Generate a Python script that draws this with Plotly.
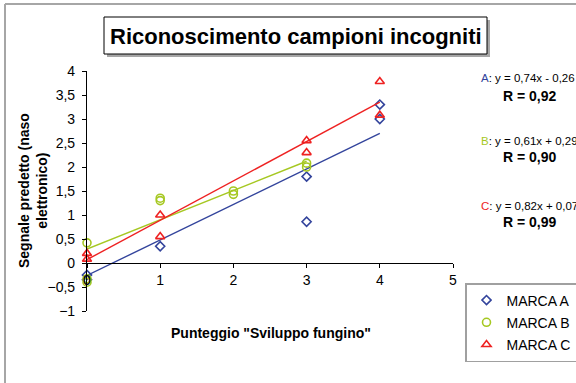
import plotly.graph_objects as go

# Scores ("Sviluppo fungino") and predicted electronic-nose signal per brand
a_x = [0, 0, 1, 3, 3, 4, 4]
a_y = [-0.25, -0.35, 0.35, 1.80, 0.86, 3.30, 3.00]

b_x = [0, 0, 0, 1, 1, 2, 2, 3, 3]
b_y = [0.42, -0.33, -0.40, 1.35, 1.30, 1.50, 1.43, 2.08, 2.00]

c_x = [0, 0, 1, 1, 3, 3, 4, 4]
c_y = [0.20, 0.08, 1.00, 0.55, 2.55, 2.30, 3.78, 3.08]

# Linear fits (slope, intercept, R) for each brand
fit_a = (0.74, -0.26, 0.92)
fit_b = (0.61, 0.29, 0.90)
fit_c = (0.82, 0.07, 0.99)

series_names = ["MARCA A", "MARCA B", "MARCA C"]
x_ticks = [0, 1, 2, 3, 4, 5]

BLUE = "#33449c"
GREEN = "#a6c822"
RED = "#ee2222"
FONT = "Arial, Liberation Sans, sans-serif"

# plot-area geometry in pixels (used to place paper-space decorations)
W_PX, H_PX = 576, 383
L, T, PW, PH = 87, 71, 366, 240


def px_x(p):
    return (p - L) / PW


def px_y(p):
    return (T + PH - p) / PH


def fmt(v):
    return f"{abs(v):.2f}".replace(".", ",")


fig = go.Figure()

series = [
    (series_names[0], a_x, a_y, fit_a, BLUE, "diamond-open", 7),
    (series_names[1], b_x, b_y, fit_b, GREEN, "circle-open", 8),
    (series_names[2], c_x, c_y, fit_c, RED, "triangle-up-open", 8),
]

for name, xs, ys, (m, q, r), color, symbol, size in series:
    fig.add_trace(go.Scatter(
        x=xs, y=ys, mode="markers", name=name, legendgroup=name,
        marker=dict(symbol=symbol, size=size, color=color,
                    line=dict(color=color, width=1.6)),
        cliponaxis=False,
    ))
    x0, x1 = min(xs), max(xs)
    fig.add_trace(go.Scatter(
        x=[x0, x1], y=[m * x0 + q, m * x1 + q], mode="lines",
        line=dict(color=color, width=1.4), showlegend=False,
        legendgroup=name, hoverinfo="skip", cliponaxis=False,
    ))

# equation / correlation labels on the right
eq_rows = [("A", fit_a, BLUE, 78, 96), ("B", fit_b, GREEN, 141, 157), ("C", fit_c, RED, 206, 222)]
for letter, (m, q, r), color, y_eq, y_r in eq_rows:
    sign = "-" if q < 0 else "+"
    fig.add_annotation(
        xref="paper", yref="paper", x=px_x(479), y=px_y(y_eq),
        xanchor="left", yanchor="middle", showarrow=False,
        text=f"<span style='color:{color}'>{letter}</span>: y = {fmt(m)}x {sign} {fmt(q)}",
        font=dict(family=FONT, size=11.5, color="#000000"),
    )
    fig.add_annotation(
        xref="paper", yref="paper", x=px_x(530), y=px_y(y_r),
        xanchor="center", yanchor="middle", showarrow=False,
        text=f"<b>R = {fmt(r)}</b>",
        font=dict(family=FONT, size=14, color="#000000"),
    )

# chart title in a framed box with drop shadow
fig.add_shape(type="rect", xref="paper", yref="paper",
              x0=px_x(107), x1=px_x(490), y0=px_y(57), y1=px_y(20),
              fillcolor="#a6a6a6", line=dict(width=0), layer="below")
fig.add_shape(type="rect", xref="paper", yref="paper",
              x0=px_x(104), x1=px_x(487), y0=px_y(54), y1=px_y(17),
              fillcolor="#ffffff", line=dict(color="#000000", width=1), layer="below")
fig.add_annotation(
    xref="paper", yref="paper", x=px_x(295.5), y=px_y(36),
    xanchor="center", yanchor="middle", showarrow=False,
    text="<b>Riconoscimento campioni incogniti</b>",
    font=dict(family=FONT, size=22, color="#000000"),
)

# axis titles
fig.add_annotation(
    xref="paper", yref="paper", x=px_x(271), y=px_y(333),
    xanchor="center", yanchor="middle", showarrow=False,
    text="<b>Punteggio \"Sviluppo fungino\"</b>",
    font=dict(family=FONT, size=14, color="#000000"),
)
fig.add_annotation(
    xref="paper", yref="paper", x=px_x(33), y=px_y(191),
    xanchor="center", yanchor="middle", showarrow=False, textangle=-90,
    text="<b>Segnale predetto (naso<br>elettronico)</b>",
    font=dict(family=FONT, size=14, color="#000000"),
)

# outer chart-area frame (top and left edges)
fig.add_shape(type="line", xref="paper", yref="paper",
              x0=px_x(5), x1=px_x(600), y0=px_y(4), y1=px_y(4),
              line=dict(color="#a6a6a6", width=2))
fig.add_shape(type="line", xref="paper", yref="paper",
              x0=px_x(5), x1=px_x(5), y0=px_y(4), y1=px_y(400),
              line=dict(color="#a6a6a6", width=2))

y_min, y_max = -1, 4

fig.update_layout(
    width=W_PX, height=H_PX,
    margin=dict(l=L, r=W_PX - L - PW, t=T, b=H_PX - T - PH, autoexpand=False),
    paper_bgcolor="#ffffff", plot_bgcolor="#ffffff",
    separators=",.",
    font=dict(family=FONT, size=14, color="#000000"),
    showlegend=True,
    legend=dict(
        x=px_x(465), y=px_y(283), xanchor="left", yanchor="top",
        bgcolor="#ffffff", bordercolor="#a0a0a0", borderwidth=1.5,
        font=dict(family=FONT, size=14, color="#000000"),
        tracegroupgap=1, itemwidth=30,
    ),
    xaxis=dict(
        range=[0, 5], tickvals=x_ticks, showgrid=False, zeroline=False,
        showline=True, linecolor="#000000", linewidth=1.2,
        ticks="outside", ticklen=4, tickcolor="#000000", tickwidth=1.2,
        anchor="free", position=(0 - y_min) / (y_max - y_min),
        tickfont=dict(family=FONT, size=14),
    ),
    yaxis=dict(
        range=[y_min, y_max], dtick=0.5, tick0=0, showgrid=False, zeroline=False,
        showline=True, linecolor="#000000", linewidth=1.2,
        ticks="outside", ticklen=4, tickcolor="#000000", tickwidth=1.2,
        tickfont=dict(family=FONT, size=14), ticklabelstandoff=4,
    ),
)

fig.write_html("out.html")
